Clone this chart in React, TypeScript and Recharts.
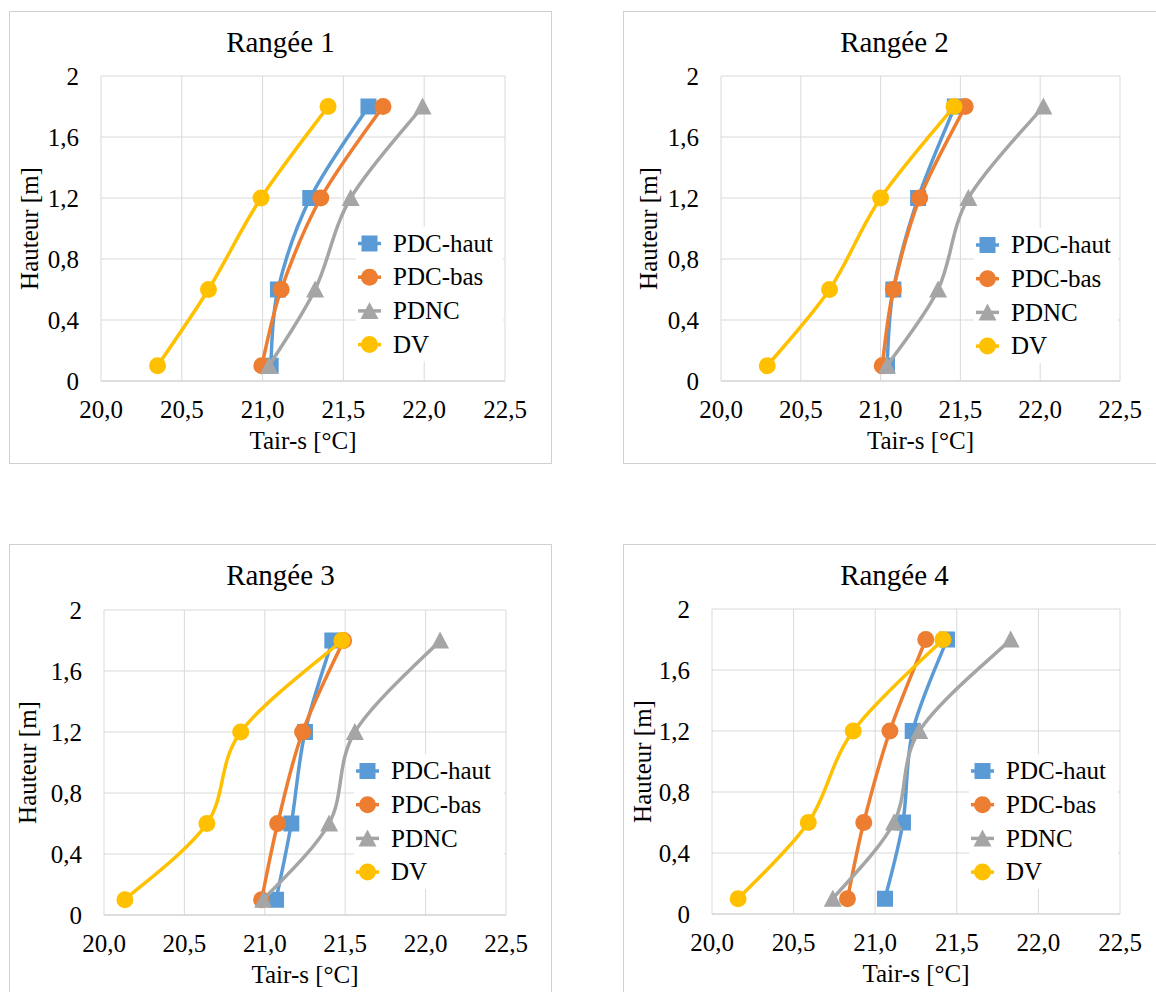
import React from 'react';
import { ScatterChart, Scatter, XAxis, YAxis, CartesianGrid } from 'recharts';

const FONT = "'Liberation Serif', 'DejaVu Serif', 'Noto Serif', serif";

// ---------- data ----------
const heights = [0.1, 0.6, 1.2, 1.8];
const seriesNames = ['PDC-haut', 'PDC-bas', 'PDNC', 'DV'];
const seriesColors = ['#5B9BD5', '#ED7D31', '#A5A5A5', '#FFC000'];
const panelTitles = ['Rangée 1', 'Rangée 2', 'Rangée 3', 'Rangée 4'];

const r1PdcHaut = [21.05, 21.095, 21.295, 21.655];
const r1PdcBas = [20.995, 21.115, 21.36, 21.745];
const r1Pdnc = [21.04, 21.325, 21.545, 21.99];
const r1Dv = [20.35, 20.665, 20.99, 21.405];

const r2PdcHaut = [21.04, 21.08, 21.235, 21.465];
const r2PdcBas = [21.01, 21.08, 21.245, 21.53];
const r2Pdnc = [21.04, 21.36, 21.55, 22.02];
const r2Dv = [20.29, 20.68, 21.0, 21.46];

const r3PdcHaut = [21.07, 21.165, 21.25, 21.42];
const r3PdcBas = [20.98, 21.08, 21.235, 21.49];
const r3Pdnc = [20.99, 21.4, 21.56, 22.09];
const r3Dv = [20.13, 20.64, 20.85, 21.48];

const r4PdcHaut = [21.06, 21.17, 21.23, 21.44];
const r4PdcBas = [20.83, 20.93, 21.09, 21.31];
const r4Pdnc = [20.74, 21.115, 21.27, 21.83];
const r4Dv = [20.16, 20.59, 20.865, 21.415];

const xTickValues = [20, 20.5, 21, 21.5, 22, 22.5];
const xTickLabels = ['20,0', '20,5', '21,0', '21,5', '22,0', '22,5'];
const yTickValues = [0, 0.4, 0.8, 1.2, 1.6, 2];
const yTickLabels = ['0', '0,4', '0,8', '1,2', '1,6', '2'];
const xAxisTitle = 'Tair-s [°C]';
const yAxisTitle = 'Hauteur [m]';

const panelSeries = [
  [r1PdcHaut, r1PdcBas, r1Pdnc, r1Dv],
  [r2PdcHaut, r2PdcBas, r2Pdnc, r2Dv],
  [r3PdcHaut, r3PdcBas, r3Pdnc, r3Dv],
  [r4PdcHaut, r4PdcBas, r4Pdnc, r4Dv],
];

// ---------- layout ----------
const PANEL_W = 543;
const PANEL_H = 453;
const CHART_W = PANEL_W - 2;
const CHART_H = PANEL_H - 2;
const XAXIS_H = 70;

const layouts = [
  { left: 9, top: 11, l: 91, r: 495, t: 64, b: 369, yTitleX: 28, legendX: 348, legendY: 231.5, titleY: 40 },
  { left: 623, top: 11, l: 97, r: 496, t: 64, b: 369, yTitleX: 33, legendX: 352, legendY: 233, titleY: 40 },
  { left: 9, top: 544, l: 94, r: 496, t: 65, b: 370, yTitleX: 26, legendX: 346, legendY: 226, titleY: 39.5 },
  { left: 623, top: 544, l: 88, r: 496, t: 64, b: 369, yTitleX: 27, legendX: 347, legendY: 226, titleY: 39.5 },
];

// Excel-like smoothed line (Catmull-Rom through the points)
function excelSmooth(context: any) {
  let pts: number[][] = [];
  return {
    areaStart() {},
    areaEnd() {},
    lineStart() {
      pts = [];
    },
    point(x: number, y: number) {
      pts.push([+x, +y]);
    },
    lineEnd() {
      const n = pts.length;
      if (!n) return;
      context.moveTo(pts[0][0], pts[0][1]);
      if (n === 1) return;
      for (let i = 0; i < n - 1; i++) {
        const p0 = pts[i === 0 ? 0 : i - 1];
        const p1 = pts[i];
        const p2 = pts[i + 1];
        const p3 = pts[i + 2 < n ? i + 2 : n - 1];
        const c1x = p1[0] + (p2[0] - p0[0]) / 6;
        const c1y = p1[1] + (p2[1] - p0[1]) / 6;
        const c2x = p2[0] - (p3[0] - p1[0]) / 6;
        const c2y = p2[1] - (p3[1] - p1[1]) / 6;
        context.bezierCurveTo(c1x, c1y, c2x, c2y, p2[0], p2[1]);
      }
    },
  };
}

function renderMarker(kind: number, cx: number, cy: number, color: string, key?: any) {
  if (kind === 0) {
    return <rect key={key} x={cx - 8} y={cy - 8} width={16} height={16} fill={color} />;
  }
  if (kind === 2) {
    return (
      <polygon
        key={key}
        points={`${cx},${cy - 9} ${cx + 9},${cy + 8} ${cx - 9},${cy + 8}`}
        fill={color}
      />
    );
  }
  return <circle key={key} cx={cx} cy={cy} r={8.5} fill={color} />;
}

function makeShape(kind: number, color: string) {
  return (props: any) => {
    const { cx, cy } = props;
    if (cx == null || cy == null) return <g />;
    return renderMarker(kind, cx, cy, color);
  };
}

function LegendBlock({ x, y, right }: { x: number; y: number; right: number }) {
  const rowH = 33.7;
  return (
    <g>
      <rect x={x - 2} y={y - 17} width={right - 2 - (x - 2)} height={rowH * 3 + 34} fill="#ffffff" />
      {seriesNames.map((name, i) => {
        const cy = y + i * rowH;
        return (
          <g key={name}>
            <line x1={x} x2={x + 23} y1={cy} y2={cy} stroke={seriesColors[i]} strokeWidth={3.5} />
            {renderMarker(i, x + 11.5, cy, seriesColors[i])}
            <text x={x + 35} y={cy} dy="0.33em" fontSize={25} style={{ fontFamily: FONT }} fill="#000">
              {name}
            </text>
          </g>
        );
      })}
    </g>
  );
}

function Panel({ index }: { index: number }) {
  const L = layouts[index];
  const series = panelSeries[index];
  return (
    <div
      style={{
        position: 'absolute',
        left: L.left,
        top: L.top,
        width: PANEL_W,
        height: PANEL_H,
        border: '1px solid #d0d0d0',
        boxSizing: 'border-box',
        background: '#fff',
        fontFamily: FONT,
      }}
    >
      <ScatterChart
        width={CHART_W}
        height={CHART_H}
        style={{ fontFamily: FONT }}
        margin={{ top: L.t, right: CHART_W - L.r, bottom: CHART_H - L.b - XAXIS_H, left: 0 }}
      >
        <CartesianGrid stroke="#d9d9d9" strokeWidth={1} />
        <XAxis
          type="number"
          dataKey="x"
          domain={[20, 22.5]}
          ticks={xTickValues}
          interval={0}
          allowDataOverflow
          height={XAXIS_H}
          tickLine={false}
          tickSize={0}
          tickMargin={19}
          axisLine={{ stroke: '#d0d0d0' }}
          tick={{ fill: '#000', fontSize: 25, style: { fontFamily: FONT } }}
          tickFormatter={(v: number) => {
            const k = xTickValues.indexOf(v);
            return k >= 0 ? xTickLabels[k] : String(v);
          }}
          label={{
            value: xAxisTitle,
            position: 'insideBottom',
            offset: 2.5,
            fill: '#000',
            fontSize: 25,
            style: { fontFamily: FONT },
          }}
        />
        <YAxis
          type="number"
          dataKey="y"
          domain={[0, 2]}
          ticks={yTickValues}
          interval={0}
          allowDataOverflow
          width={L.l}
          tickLine={false}
          tickSize={0}
          tickMargin={22}
          axisLine={false}
          tick={{ fill: '#000', fontSize: 25, style: { fontFamily: FONT } }}
          tickFormatter={(v: number) => {
            const k = yTickValues.indexOf(v);
            return k >= 0 ? yTickLabels[k] : String(v);
          }}
          label={{
            value: yAxisTitle,
            angle: -90,
            position: 'insideLeft',
            offset: L.yTitleX - 8.9,
            style: { textAnchor: 'middle', fontFamily: FONT },
            fill: '#000',
            fontSize: 25,
          }}
        />
        {series.map((vals, si) => (
          <Scatter
            key={seriesNames[si]}
            name={seriesNames[si]}
            data={vals.map((v, k) => ({ x: v, y: heights[k] }))}
            fill={seriesColors[si]}
            line={{ stroke: seriesColors[si], strokeWidth: 3.5 }}
            lineType="joint"
            lineJointType={excelSmooth as any}
            shape={makeShape(si, seriesColors[si])}
            isAnimationActive={false}
          />
        ))}
        <text
          x={CHART_W / 2}
          y={L.titleY}
          textAnchor="middle"
          fontSize={29}
          style={{ fontFamily: FONT }}
          fill="#000"
        >
          {panelTitles[index]}
        </text>
        <LegendBlock x={L.legendX} y={L.legendY} right={L.r} />
      </ScatterChart>
    </div>
  );
}

export default function App() {
  return (
    <div
      style={{
        position: 'absolute',
        left: 0,
        top: 0,
        width: 1156,
        height: 992,
        overflow: 'hidden',
        background: '#fff',
        fontFamily: FONT,
      }}
    >
      {[0, 1, 2, 3].map((i) => (
        <Panel key={i} index={i} />
      ))}
    </div>
  );
}
